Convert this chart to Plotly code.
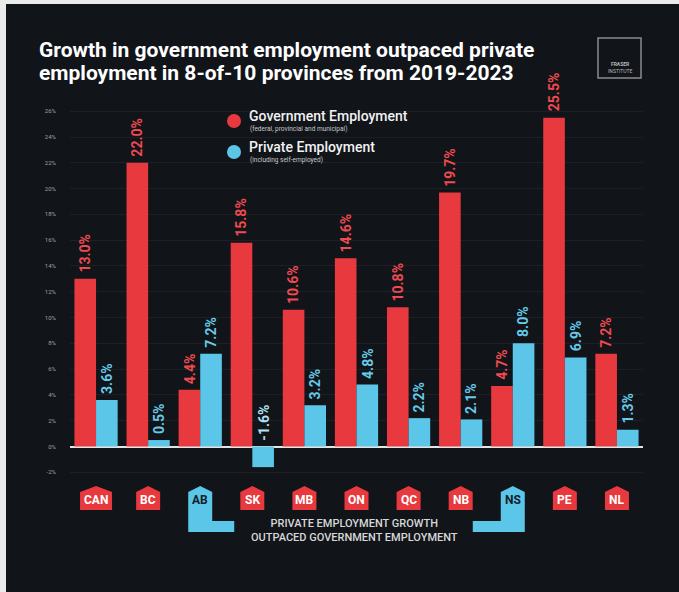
import plotly.graph_objects as go

# --- data -------------------------------------------------------------
provinces = ["CAN", "BC", "AB", "SK", "MB", "ON", "QC", "NB", "NS", "PE", "NL"]
government = [13.0, 22.0, 4.4, 15.8, 10.6, 14.6, 10.8, 19.7, 4.7, 25.5, 7.2]
private = [3.6, 0.5, 7.2, -1.6, 3.2, 4.8, 2.2, 2.1, 8.0, 6.9, 1.3]
y_ticks = list(range(-2, 27, 2))
y_tick_labels = [f"{v}%" for v in y_ticks]
title_lines = ["Growth in government employment outpaced private",
               "employment in 8-of-10 provinces from 2019-2023"]

# --- styling ----------------------------------------------------------
BG = "#111419"
RED = "#e8393f"
CYAN = "#5cc6e8"
RED_TXT = "#ef4a50"
CYAN_TXT = "#66cbea"
FONT = "Roboto"

W, H = 679, 592
L, R, T, B = 70, 36, 79, 23
X_RANGE = (-0.5, len(provinces) - 0.5)
Y_RANGE = (-9.5, 28.5)
PW, PH = W - L - R, H - T - B
UX = (X_RANGE[1] - X_RANGE[0]) / PW   # x data units per pixel
UY = (Y_RANGE[1] - Y_RANGE[0]) / PH   # y data units per pixel
BARGAP = 0.17


def dx(px):
    return X_RANGE[0] + (px - L) * UX


def dy(py):
    return Y_RANGE[1] - (py - T) * UY


def paper_x(px):
    return (px - L) / PW


def paper_y(py):
    return 1 - (py - T) / PH


xs = list(range(len(provinces)))

fig = go.Figure()
fig.add_trace(go.Bar(x=xs, y=government, name="Government Employment",
                     marker=dict(color=RED, line=dict(width=0))))
fig.add_trace(go.Bar(x=xs, y=private, name="Private Employment",
                     marker=dict(color=CYAN, line=dict(width=0))))

shapes = []
annotations = []

# page frame: light strips on the left and top edges
shapes.append(dict(type="rect", xref="paper", yref="paper", layer="below",
                   x0=paper_x(-5), x1=paper_x(6), y0=paper_y(H + 5), y1=paper_y(-5),
                   fillcolor="#ebebeb", line=dict(width=0)))
shapes.append(dict(type="rect", xref="paper", yref="paper", layer="below",
                   x0=paper_x(-5), x1=paper_x(W + 5), y0=paper_y(4), y1=paper_y(-5),
                   fillcolor="#ebebeb", line=dict(width=0)))

# value labels, rotated, sitting just above each bar (or the zero line)
off = (1 - BARGAP) / 4
for i, (g, p) in enumerate(zip(government, private)):
    for val, sx, col in ((g, -off, RED_TXT), (p, off, CYAN_TXT)):
        annotations.append(dict(
            x=i + sx, y=max(val, 0), xref="x", yref="y",
            text=f"{val:.1f}%", textangle=-90, showarrow=False,
            xanchor="center", yanchor="bottom", yshift=4,
            font=dict(family=FONT, size=14, color=col if val >= 0 else "#b3e2f2",
                      weight="bold")))

# province badges (house-shaped tags); AB and NS carry a bracket to the note
TOP, SHOULDER, BOTTOM = 486, 492, 510
BR_TOP, BR_BOT = 521, 532
for i, name in enumerate(provinces):
    hw = (16 if len(name) > 2 else 12) * UX
    x0, x1 = i - hw, i + hw
    yt, ys, yb = dy(TOP), dy(SHOULDER), dy(BOTTOM)
    if name == "AB":
        ext = i + hw + 22 * UX
        path = (f"M {x0},{ys} L {i},{yt} L {x1},{ys} L {x1},{dy(BR_TOP)} "
                f"L {ext},{dy(BR_TOP)} L {ext},{dy(BR_BOT)} L {x0},{dy(BR_BOT)} Z")
        fill, tcol = CYAN, "#13202b"
    elif name == "NS":
        ext = i - hw - 28 * UX
        path = (f"M {x0},{ys} L {i},{yt} L {x1},{ys} L {x1},{dy(BR_BOT)} "
                f"L {ext},{dy(BR_BOT)} L {ext},{dy(BR_TOP)} L {x0},{dy(BR_TOP)} Z")
        fill, tcol = CYAN, "#13202b"
    else:
        path = f"M {x0},{ys} L {i},{yt} L {x1},{ys} L {x1},{yb} L {x0},{yb} Z"
        fill, tcol = RED, "#ffffff"
    shapes.append(dict(type="path", xref="x", yref="y", path=path,
                       fillcolor=fill, line=dict(width=0), layer="above"))
    annotations.append(dict(x=i, y=dy(500), xref="x", yref="y", text=name,
                            showarrow=False, xanchor="center", yanchor="middle",
                            font=dict(family=FONT, size=12, color=tcol, weight="bold")))

annotations.append(dict(
    x=dx(354), y=dy(530), xref="x", yref="y",
    text="PRIVATE EMPLOYMENT GROWTH<br>OUTPACED GOVERNMENT EMPLOYMENT",
    showarrow=False, xanchor="center", yanchor="middle", align="center",
    font=dict(family=FONT, size=11, color="#d8d8d8", weight=500)))

# title, one annotation per line for tight leading
for line, ypx in zip(title_lines, (50, 73)):
    annotations.append(dict(
        x=paper_x(37), y=paper_y(ypx), xref="paper", yref="paper",
        xanchor="left", yanchor="middle", align="left", showarrow=False,
        text=line, font=dict(family=FONT, size=21, color="#ffffff", weight="bold")))

# logo box
shapes.append(dict(type="rect", xref="paper", yref="paper",
                   x0=paper_x(598), x1=paper_x(641), y0=paper_y(78), y1=paper_y(38),
                   line=dict(color="#8a8c90", width=1.5), fillcolor="rgba(0,0,0,0)"))
annotations.append(dict(x=paper_x(619.5), y=paper_y(68), xref="paper", yref="paper",
                        showarrow=False, text="<b>FRASER</b><br>INSTITUTE", align="center",
                        xanchor="center", yanchor="middle",
                        font=dict(family=FONT, size=5, color="#b8b8b8")))

# legend built from markers and two-line captions
legend_items = [
    ("Government Employment", "(federal, provincial and municipal)", RED, 121, 116, 129),
    ("Private Employment", "(including self-employed)", CYAN, 152, 147, 160),
]
for label, sub, col, cy, ly, sy in legend_items:
    r = 7
    shapes.append(dict(type="circle", xref="x", yref="y",
                       x0=dx(234 - r), x1=dx(234 + r), y0=dy(cy + r), y1=dy(cy - r),
                       fillcolor=col, line=dict(width=0)))
    annotations.append(dict(x=dx(247), y=dy(ly), xref="x", yref="y", text=label,
                            showarrow=False, xanchor="left", yanchor="middle",
                            font=dict(family=FONT, size=14, color="#f2f2f2", weight=500)))
    annotations.append(dict(x=dx(248), y=dy(sy), xref="x", yref="y", text=sub,
                            showarrow=False, xanchor="left", yanchor="middle",
                            font=dict(family=FONT, size=6.5, color="#c8c8c8")))

fig.update_layout(
    width=W, height=H, autosize=False,
    margin=dict(l=L, r=R, t=T, b=B, pad=0),
    paper_bgcolor=BG, plot_bgcolor=BG,
    barmode="group", bargap=BARGAP, bargroupgap=0,
    showlegend=False,
    shapes=shapes, annotations=annotations,
    xaxis=dict(range=list(X_RANGE), showticklabels=False, showgrid=False,
               zeroline=False, ticks="", fixedrange=True),
    yaxis=dict(range=list(Y_RANGE), tickvals=y_ticks, ticktext=y_tick_labels,
               showgrid=True, gridcolor="rgba(255,255,255,0.05)", gridwidth=1,
               zeroline=True, zerolinecolor="#e4e4e4", zerolinewidth=2,
               ticks="", ticklabelstandoff=13,
               tickfont=dict(family=FONT, size=6, color="#a0a0a0")),
)

fig.write_html("out.html")
